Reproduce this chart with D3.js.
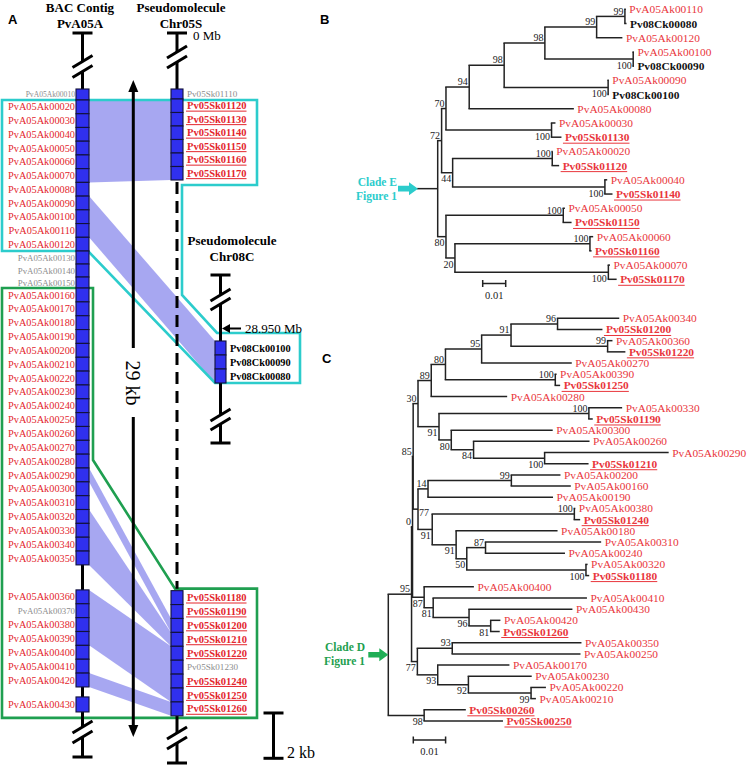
<!DOCTYPE html>
<html><head><meta charset="utf-8">
<script src="https://cdn.jsdelivr.net/npm/d3@7"></script>
<style>body{margin:0;background:#fff}svg{display:block}</style>
</head><body>
<svg id="fig" width="747" height="765"></svg>
<script>
// ================= DATA =================
// Panel A : BAC contig PvA05A genes (lengths and preceding gaps in kb)
const contigGenes = ["PvA05Ak00010","PvA05Ak00020","PvA05Ak00030","PvA05Ak00040","PvA05Ak00050","PvA05Ak00060","PvA05Ak00070","PvA05Ak00080","PvA05Ak00090","PvA05Ak00100","PvA05Ak00110","PvA05Ak00120","PvA05Ak00130","PvA05Ak00140","PvA05Ak00150","PvA05Ak00160","PvA05Ak00170","PvA05Ak00180","PvA05Ak00190","PvA05Ak00200","PvA05Ak00210","PvA05Ak00220","PvA05Ak00230","PvA05Ak00240","PvA05Ak00250","PvA05Ak00260","PvA05Ak00270","PvA05Ak00280","PvA05Ak00290","PvA05Ak00300","PvA05Ak00310","PvA05Ak00320","PvA05Ak00330","PvA05Ak00340","PvA05Ak00350","PvA05Ak00360","PvA05Ak00370","PvA05Ak00380","PvA05Ak00390","PvA05Ak00400","PvA05Ak00410","PvA05Ak00420","PvA05Ak00430"];
const contigLenKb = [0.486,0.606,0.606,0.606,0.606,0.606,0.606,0.606,0.606,0.606,0.606,0.606,0.574,0.574,0.486,0.611,0.611,0.611,0.611,0.611,0.611,0.611,0.611,0.611,0.611,0.611,0.611,0.611,0.611,0.611,0.611,0.611,0.611,0.611,0.611,0.612,0.612,0.612,0.612,0.612,0.612,0.612,0.662];
const contigGapKb = [0,0,0,0,0,0,0,0,0,0,0,0,0,0,0,0,0,0,0,0,0,0,0,0,0,0,0,0,0,0,0,0,0,0,0,1.104,0,0,0,0,0,0,0.441];
const contigStartKb = 0.397;
// Pseudomolecule Chr05S, two gene blocks
const chr05TopGenes = ["Pv05Sk01110","Pv05Sk01120","Pv05Sk01130","Pv05Sk01140","Pv05Sk01150","Pv05Sk01160","Pv05Sk01170"];
const chr05TopLenKb = [0.441,0.596,0.596,0.596,0.596,0.596,0.596];
const chr05TopStartKb = 0.397;
const chr05BotGenes = ["Pv05Sk01180","Pv05Sk01190","Pv05Sk01200","Pv05Sk01210","Pv05Sk01220","Pv05Sk01230","Pv05Sk01240","Pv05Sk01250","Pv05Sk01260"];
const chr05BotLenKb = [0.614,0.614,0.614,0.614,0.614,0.614,0.614,0.614,0.614];
const chr05BotStartKb = 22.54;
// Pseudomolecule Chr08C
const chr08Genes = ["Pv08Ck00100","Pv08Ck00090","Pv08Ck00080"];
const chr08LenKb = [0.618,0.618,0.618];
const chr08StartKb = 11.52;
// genes without a homolog (grey labels)
const greyGenes = ["PvA05Ak00010","PvA05Ak00130","PvA05Ak00140","PvA05Ak00150","PvA05Ak00370","Pv05Sk01110","Pv05Sk01230"];
// syntenic bands: [contig first, contig last, target first, target last]
const bands = [
  ["PvA05Ak00020","PvA05Ak00070","Pv05Sk01120","Pv05Sk01170"],
  ["PvA05Ak00090","PvA05Ak00110","Pv08Ck00100","Pv08Ck00080"],
  ["PvA05Ak00290","PvA05Ak00290","Pv05Sk01200","Pv05Sk01200"],
  ["PvA05Ak00320","PvA05Ak00350","Pv05Sk01210","Pv05Sk01210"],
  ["PvA05Ak00360","PvA05Ak00390","Pv05Sk01220","Pv05Sk01250"],
  ["PvA05Ak00420","PvA05Ak00420","Pv05Sk01260","Pv05Sk01260"]
];
const contigSpanKb = 29;   // arrow "29 kb"
const scaleBarKb = 2;      // "2 kb"

// Panel B tree (branch lengths in substitutions/site, s = bootstrap)
const treeB = {c:[
  {b:0.0017,s:72,c:[
    {b:0.0019,s:70,c:[
      {b:0.0101,s:94,c:[
        {b:0.0152,s:98,c:[
          {b:0.0177,s:98,c:[
            {b:0.0225,s:99,c:[
              {b:0.0123,s:99,c:[{n:"PvA05Ak00110",b:0.0004},{n:"Pv08Ck00080",b:0.0007}]},
              {n:"PvA05Ak00120",b:0.0112}]},
            {b:0.0384,s:100,lp:"b",c:[{n:"PvA05Ak00100",b:0.0003},{n:"Pv08Ck00090",b:0.0003}]}]},
          {b:0.0452,s:100,lp:"b",c:[{n:"PvA05Ak00090",b:0.0003},{n:"Pv08Ck00100",b:0.0003}]}]},
        {n:"PvA05Ak00080",b:0.0455}]},
      {b:0.0459,s:100,lp:"b",c:[{n:"PvA05Ak00030",b:0.0017},{n:"Pv05Sk01130",b:0.0043}]}]},
    {b:0.0048,s:44,lp:"b",c:[
      {b:0.0433,s:100,c:[{n:"PvA05Ak00020",b:0.0002},{n:"Pv05Sk01120",b:0.003}]},
      {b:0.0662,s:100,lp:"b",c:[{n:"PvA05Ak00040",b:0.001},{n:"Pv05Sk01140",b:0.0033}]}]}]},
  {b:0.0036,s:80,lp:"b",c:[
    {b:0.051,s:100,c:[{n:"PvA05Ak00050",b:0.0007},{n:"Pv05Sk01150",b:0.0036}]},
    {b:0.0039,s:20,lp:"b",c:[
      {b:0.0587,s:100,c:[{n:"PvA05Ak00060",b:0.0014},{n:"Pv05Sk01160",b:0.0007}]},
      {b:0.0667,s:100,lp:"b",c:[{n:"PvA05Ak00070",b:0.0007},{n:"Pv05Sk01170",b:0.0036}]}]}]}
]};

// Panel C tree
const treeC = {c:[
 {b:0.0072,s:95,c:[
   {b:0.0003,s:0,c:[
     {b:0.0002,s:85,c:[
       {b:0.0015,s:30,c:[
         {b:0.0041,s:89,c:[
           {b:0.0044,s:80,c:[
             {b:0.0112,s:95,c:[
               {b:0.0091,s:91,c:[
                 {b:0.0144,s:96,c:[{n:"PvA05Ak00340",b:0.0191},{n:"Pv05Sk01200",b:0.0139}]},
                 {b:0.0299,s:99,c:[{n:"PvA05Ak00360",b:0.0015},{n:"Pv05Sk01220",b:0.0055}]}]},
               {n:"PvA05Ak00270",b:0.0279}]},
             {b:0.034,s:100,c:[{n:"PvA05Ak00390",b:0.0004},{n:"Pv05Sk01250",b:0.0015}]}]},
           {n:"PvA05Ak00280",b:0.0235}]},
         {b:0.0065,s:91,lp:"b",c:[
           {b:0.0464,s:100,c:[{n:"PvA05Ak00330",b:0.0103},{n:"Pv05Sk01190",b:0.0012}]},
           {b:0.0038,s:80,lp:"b",c:[
             {n:"PvA05Ak00300",b:0.0314},
             {b:0.0069,s:84,lp:"b",c:[
               {n:"PvA05Ak00260",b:0.0359},
               {b:0.022,s:100,lp:"b",c:[{n:"PvA05Ak00290",b:0.0384},{n:"Pv05Sk01210",b:0.0136}]}]}]}]}]},
       {b:0.0015,s:77,lp:"r",c:[
         {b:0.0031,s:14,c:[
           {b:0.0258,s:99,c:[{n:"PvA05Ak00200",b:0.0152},{n:"PvA05Ak00160",b:0.0184}]},
           {n:"PvA05Ak00190",b:0.0387}]},
         {b:0.0044,s:91,lp:"b",c:[
           {b:0.044,s:100,c:[{n:"PvA05Ak00380",b:0.0003},{n:"Pv05Sk01240",b:0.0018}]},
           {b:0.0074,s:91,lp:"b",c:[
             {n:"PvA05Ak00180",b:0.0314},
             {b:0.0033,s:50,lp:"b",c:[
               {b:0.0058,s:87,c:[{n:"PvA05Ak00310",b:0.0358},{n:"PvA05Ak00240",b:0.0246}]},
               {b:0.0369,s:100,lp:"b",c:[{n:"PvA05Ak00320",b:0.0005},{n:"Pv05Sk01180",b:0.001}]}]}]}]}]}]},
     {b:0.0036,s:87,lp:"b",c:[
       {n:"PvA05Ak00400",b:0.0154},
       {b:0.0028,s:81,lp:"b",c:[
         {n:"PvA05Ak00410",b:0.0476},
         {b:0.0111,s:96,lp:"b",c:[
           {n:"PvA05Ak00430",b:0.032},
           {b:0.0067,s:81,lp:"b",c:[{n:"PvA05Ak00420",b:0.003},{n:"Pv05Sk01260",b:0.0028}]}]}]}]}]},
   {b:0.0018,s:77,lp:"b",c:[
     {b:0.0108,s:93,c:[{n:"PvA05Ak00350",b:0.04},{n:"PvA05Ak00250",b:0.0397}]},
     {b:0.0063,s:93,lp:"b",c:[
       {n:"PvA05Ak00170",b:0.0222},
       {b:0.0095,s:92,lp:"b",c:[
         {n:"PvA05Ak00230",b:0.0196},
         {b:0.0194,s:99,lp:"b",c:[{n:"PvA05Ak00220",b:0.0046},{n:"PvA05Ak00210",b:0.0015}]}]}]}]}]},
 {b:0.0111,s:98,lp:"b",c:[{n:"Pv05Sk00260",b:0.0129},{n:"Pv05Sk00250",b:0.0244}]}
]};
const treeScaleValue = 0.01;

// ================= DRAW =================
const SERIF = "'Liberation Serif','Times New Roman',serif";
const SANS = "'Liberation Sans',Arial,sans-serif";
const RED = "#e3262d", TRED = "#e9363c", GREY = "#8c8c8c", BLUE = "#3030ee",
      BANDC = "#5f5fe6", CYAN = "#2ccccc", GREEN = "#1f9f50";
const svg = d3.select("#fig");

// ---------- Panel A ----------
const gA = svg.append("g");
const yKb = d3.scaleLinear().domain([0, contigSpanKb]).range([80, 737]);
const X_CONTIG = 82.5, X_05 = 177, X_08 = 220.5;
const W_CONTIG = 13, W_05 = 12, W_08 = 11;

function layoutBlock(names, lens, gaps, start) {
  let k = start;
  return names.map((n, i) => {
    k += gaps ? gaps[i] : 0;
    const o = {name: n, y0: yKb(k), y1: yKb(k + lens[i])};
    k += lens[i];
    return o;
  });
}
const contig = layoutBlock(contigGenes, contigLenKb, contigGapKb, contigStartKb);
const c05a = layoutBlock(chr05TopGenes, chr05TopLenKb, null, chr05TopStartKb);
const c05b = layoutBlock(chr05BotGenes, chr05BotLenKb, null, chr05BotStartKb);
const c08 = layoutBlock(chr08Genes, chr08LenKb, null, chr08StartKb);
const byName = {};
[contig, c05a, c05b, c08].forEach(a => a.forEach(g => byName[g.name] = g));

// synteny bands
bands.forEach(([a0, a1, b0, b1]) => {
  const to08 = b0.startsWith("Pv08");
  const xL = X_CONTIG + W_CONTIG / 2, xR = (to08 ? X_08 - W_08 / 2 : X_05 - W_05 / 2);
  const pts = [[xL, byName[a0].y0], [xR, byName[b0].y0], [xR, byName[b1].y1], [xL, byName[a1].y1]];
  gA.append("path").attr("d", d3.line()(pts) + "Z").attr("fill", BANDC).attr("fill-opacity", 0.55);
});

// clade outlines
const cyanPts = [[2, byName["PvA05Ak00020"].y0], [257, byName["PvA05Ak00020"].y0], [257, byName["Pv05Sk01170"].y1 + 5],
  [182, byName["Pv05Sk01170"].y1 + 5], [182, 295], [217, byName["Pv08Ck00100"].y0 - 8], [300, byName["Pv08Ck00100"].y0 - 8],
  [300, byName["Pv08Ck00080"].y1], [215, byName["Pv08Ck00080"].y1], [88, byName["PvA05Ak00120"].y1], [2, byName["PvA05Ak00120"].y1]];
gA.append("path").attr("d", d3.line()(cyanPts) + "Z").attr("fill", "none").attr("stroke", CYAN).attr("stroke-width", 2.6);
const greenPts = [[2, byName["PvA05Ak00160"].y0], [93, byName["PvA05Ak00160"].y0], [93, 460], [175, byName["Pv05Sk01180"].y0 - 2],
  [257, byName["Pv05Sk01180"].y0 - 2], [257, byName["Pv05Sk01260"].y1 + 2], [2, byName["Pv05Sk01260"].y1 + 2]];
gA.append("path").attr("d", d3.line()(greenPts) + "Z").attr("fill", "none").attr("stroke", GREEN).attr("stroke-width", 2.6);

// chromosome lines
function seg(x, y0, y1, dash) {
  const l = gA.append("line").attr("x1", x).attr("x2", x).attr("y1", y0).attr("y2", y1)
    .attr("stroke", "#000").attr("stroke-width", 3);
  if (dash) l.attr("stroke-dasharray", dash);
}
function cap(x, y) { gA.append("line").attr("x1", x - 10).attr("x2", x + 10).attr("y1", y).attr("y2", y).attr("stroke", "#000").attr("stroke-width", 3); }
function slash(x, y) { gA.append("line").attr("x1", x - 10).attr("x2", x + 10).attr("y1", y + 6).attr("y2", y - 6).attr("stroke", "#000").attr("stroke-width", 3); }
// contig
cap(X_CONTIG, 33); seg(X_CONTIG, 33, 61.5); slash(X_CONTIG, 61.5); slash(X_CONTIG, 71.5);
seg(X_CONTIG, 71.5, 727); slash(X_CONTIG, 727); slash(X_CONTIG, 737); seg(X_CONTIG, 737, 757); cap(X_CONTIG, 757);
// chr05S
cap(X_05, 33); seg(X_05, 33, 52); slash(X_05, 52); slash(X_05, 62); seg(X_05, 62, c05a[0].y0);
seg(X_05, c05a[c05a.length - 1].y1 + 2, c05b[0].y0 - 2, "12,7");
seg(X_05, c05b[c05b.length - 1].y1, 733); slash(X_05, 733); slash(X_05, 743); seg(X_05, 743, 763); cap(X_05, 763);
// chr08C
cap(X_08, 275); seg(X_08, 275, 295); slash(X_08, 295); slash(X_08, 304); seg(X_08, 304, 415);
slash(X_08, 415); slash(X_08, 424); seg(X_08, 424, 443); cap(X_08, 443);

// gene boxes
function boxes(arr, x, w) {
  gA.append("g").selectAll("rect").data(arr).join("rect")
    .attr("x", x - w / 2).attr("width", w).attr("y", d => d.y0).attr("height", d => d.y1 - d.y0)
    .attr("fill", BLUE).attr("stroke", "#12123a").attr("stroke-width", 1.1);
}
boxes(contig, X_CONTIG, W_CONTIG); boxes(c05a, X_05, W_05); boxes(c05b, X_05, W_05); boxes(c08, X_08, W_08);

// gene labels
function uline(sel, color) {
  sel.each(function () {
    const t = d3.select(this), len = this.getComputedTextLength();
    const x = +t.attr("x"), y = +t.attr("y");
    gA.append("line").attr("x1", x - 1).attr("x2", x + len).attr("y1", y + 1.8).attr("y2", y + 1.8)
      .attr("stroke", color).attr("stroke-width", 1);
  });
}
contig.forEach(g => {
  const grey = greyGenes.includes(g.name);
  gA.append("text").attr("x", X_CONTIG - W_CONTIG / 2 - 1).attr("y", (g.y0 + g.y1) / 2 + (grey ? 3 : 3.6))
    .attr("text-anchor", "end").attr("font-family", SERIF).attr("font-size", grey ? (g.name === "PvA05Ak00010" ? 7.6 : 8.8) : 10.3)
    .attr("fill", grey ? GREY : RED).text(g.name);
});
c05a.concat(c05b).forEach(g => {
  const grey = greyGenes.includes(g.name);
  const t = gA.append("text").attr("x", X_05 + W_05 / 2 + 4).attr("y", (g.y0 + g.y1) / 2 + (grey ? 3 : 3.6))
    .attr("font-family", SERIF).attr("font-size", grey ? 9.1 : 10.5).attr("font-weight", grey ? "normal" : "bold")
    .attr("fill", grey ? GREY : RED).text(g.name);
  if (!grey) uline(t, RED);
});
c08.forEach(g => {
  gA.append("text").attr("x", X_08 + W_08 / 2 + 4).attr("y", (g.y0 + g.y1) / 2 + 3.6)
    .attr("font-family", SERIF).attr("font-size", 10.3).attr("font-weight", "bold").attr("fill", "#000").text(g.name);
});

// titles
function title(x, y, s, size) {
  gA.append("text").attr("x", x).attr("y", y).attr("text-anchor", "middle").attr("font-family", SERIF)
    .attr("font-weight", "bold").attr("font-size", size || 13).text(s);
}
title(80, 11.5, "BAC Contig"); title(80, 27.5, "PvA05A");
title(181, 11.5, "Pseudomolecule"); title(181, 27.5, "Chr05S");
title(232, 245, "Pseudomolecule"); title(232, 260.5, "Chr08C");
gA.append("text").attr("x", 193).attr("y", 39.5).attr("font-family", SERIF).attr("font-size", 13).text("0 Mb");
// 28.950 Mb pointer
gA.append("line").attr("x1", 241).attr("x2", 229).attr("y1", 328.5).attr("y2", 328.5).attr("stroke", "#000").attr("stroke-width", 2);
gA.append("path").attr("d", "M222,328.5 L230,324 L230,333 Z").attr("fill", "#000");
gA.append("text").attr("x", 245).attr("y", 333).attr("font-family", SERIF).attr("font-size", 13).text("28.950 Mb");

// 29 kb arrow
const X_ARR = 133.3, yTop = yKb(0), yBot = yKb(contigSpanKb);
gA.append("line").attr("x1", X_ARR).attr("x2", X_ARR).attr("y1", yTop + 8).attr("y2", 348).attr("stroke", "#000").attr("stroke-width", 3);
gA.append("line").attr("x1", X_ARR).attr("x2", X_ARR).attr("y1", 417).attr("y2", yBot - 8).attr("stroke", "#000").attr("stroke-width", 3);
gA.append("path").attr("d", `M${X_ARR},${yTop} L${X_ARR - 5},${yTop + 12} L${X_ARR + 5},${yTop + 12} Z`).attr("fill", "#000");
gA.append("path").attr("d", `M${X_ARR},${yBot} L${X_ARR - 5},${yBot - 12} L${X_ARR + 5},${yBot - 12} Z`).attr("fill", "#000");
gA.append("text").attr("transform", `translate(${X_ARR},383) rotate(90)`).attr("text-anchor", "middle")
  .attr("dominant-baseline", "central").attr("font-family", SERIF).attr("font-size", 20).text(contigSpanKb + " kb");

// 2 kb scale bar
const sb0 = yKb(27.94), sb1 = yKb(27.94 + scaleBarKb), X_SB = 273.5;
gA.append("line").attr("x1", X_SB).attr("x2", X_SB).attr("y1", sb0).attr("y2", sb1).attr("stroke", "#000").attr("stroke-width", 3);
cap(X_SB, sb0); cap(X_SB, sb1);
gA.append("text").attr("x", 287).attr("y", 758).attr("font-family", SERIF).attr("font-size", 16).text(scaleBarKb + " kb");

// panel letters
[["A", 8, 24], ["B", 320, 24], ["C", 322, 363]].forEach(([s, x, y]) =>
  svg.append("text").attr("x", x).attr("y", y).attr("font-family", SANS).attr("font-weight", "bold").attr("font-size", 13).text(s));

// ---------- Trees ----------
function drawTree(tree, xs, ys) {
  const g = svg.append("g");
  let leafI = 0;
  (function lay(node, x) {
    node.x = x;
    if (node.c) { node.c.forEach(ch => lay(ch, x + ch.b)); node.y = (node.c[0].y + node.c[node.c.length - 1].y) / 2; }
    else node.y = leafI++;
  })(tree, 0);
  const all = [];
  (function walk(n) { all.push(n); if (n.c) n.c.forEach(walk); })(tree);
  all.forEach(n => {
    if (!n.c) return;
    g.append("line").attr("x1", xs(n.x)).attr("x2", xs(n.x)).attr("y1", ys(n.c[0].y)).attr("y2", ys(n.c[n.c.length - 1].y))
      .attr("stroke", "#222").attr("stroke-width", 1.5);
    n.c.forEach(ch => g.append("line").attr("x1", xs(n.x) - 0.75).attr("x2", xs(ch.x)).attr("y1", ys(ch.y)).attr("y2", ys(ch.y))
      .attr("stroke", "#222").attr("stroke-width", 1.5));
  });
  all.forEach(n => {
    if (n === tree) return;
    if (n.c && n.s !== undefined) {
      const t = g.append("text").attr("font-family", SERIF).attr("font-size", 10).attr("fill", "#222").text(n.s);
      if (n.lp === "r") t.attr("x", xs(n.x) + 1).attr("y", ys(n.y) + 7);
      else t.attr("x", xs(n.x) - 1.5).attr("text-anchor", "end").attr("y", ys(n.y) + (n.lp === "b" ? 9.6 : -1.8));
    }
    if (!n.c) {
      const sk = n.n.startsWith("Pv05Sk"), ck = n.n.startsWith("Pv08Ck");
      const col = ck ? "#111" : TRED;
      const t = g.append("text").attr("x", xs(n.x) + 3.5).attr("y", ys(n.y) + 4).attr("font-family", SERIF)
        .attr("font-size", 11.4).attr("font-weight", (sk || ck) ? "bold" : "normal").attr("fill", col).text(n.n);
      if (sk) {
        const len = t.node().getComputedTextLength(), x = xs(n.x) + 3.5, y = ys(n.y) + 4;
        g.append("line").attr("x1", x - 2).attr("x2", x + len).attr("y1", y + 2).attr("y2", y + 2).attr("stroke", col).attr("stroke-width", 1);
      }
    }
  });
  return {g, root: tree};
}
function scaleBar(xs, x0, y, ty) {
  const w = xs(treeScaleValue) - xs(0);
  const p = d3.path(); p.moveTo(x0, y); p.lineTo(x0 + w, y); p.moveTo(x0, y - 3.5); p.lineTo(x0, y + 3.5); p.moveTo(x0 + w, y - 3.5); p.lineTo(x0 + w, y + 3.5);
  svg.append("path").attr("d", p.toString()).attr("stroke", "#222").attr("stroke-width", 1.5).attr("fill", "none");
  svg.append("text").attr("x", x0 + w / 2).attr("y", ty).attr("text-anchor", "middle").attr("font-family", SERIF).attr("font-size", 10.5).attr("fill", "#222").text(treeScaleValue);
}
function blockArrow(tip, y, color) {
  svg.append("path").attr("d", `M${tip - 20},${y - 2.8} H${tip - 9} V${y - 6.5} L${tip},${y} L${tip - 9},${y + 6.5} V${y + 2.8} H${tip - 20} Z`).attr("fill", color);
}
function cladeLabel(x, y, lines, color) {
  lines.forEach((s, i) => svg.append("text").attr("x", x).attr("y", y + i * 14).attr("text-anchor", "end").attr("font-family", SERIF)
    .attr("font-weight", "bold").attr("font-size", 11.5).attr("fill", color).text(s));
}

// Panel B
const xB = d3.scaleLinear().domain([0, treeScaleValue]).range([437.7, 460.7]);
const yB = d3.scaleLinear().domain([0, 19]).range([9.3, 279.3]);
drawTree(treeB, xB, yB);
const ryB = yB(treeB.y);
svg.append("line").attr("x1", 417).attr("x2", xB(0)).attr("y1", ryB).attr("y2", ryB).attr("stroke", "#222").attr("stroke-width", 1.5);
blockArrow(418, ryB, CYAN);
cladeLabel(397, ryB - 3, ["Clade E", "Figure 1"], CYAN);
scaleBar(xB, 482.7, 283.5, 299);

// Panel C
const xC = d3.scaleLinear().domain([0, treeScaleValue]).range([388.3, 420.6]);
const yC = d3.scaleLinear().domain([0, 36]).range([318.3, 721]);
drawTree(treeC, xC, yC);
const ryC = yC(treeC.y);
blockArrow(xC(0), ryC, "#1fae55");
cladeLabel(365, ryC - 4, ["Clade D", "Figure 1"], GREEN);
scaleBar(xC, 413.3, 740, 755);
</script>
</body></html>
